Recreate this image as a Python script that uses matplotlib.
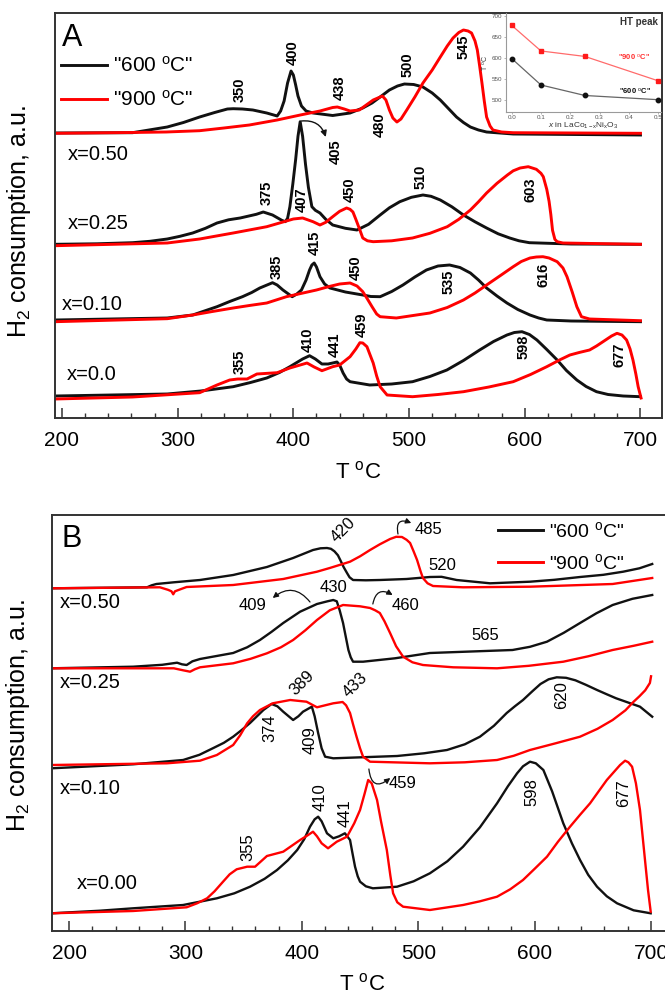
import matplotlib
matplotlib.use("Agg")
import matplotlib.pyplot as plt
from matplotlib.ticker import MultipleLocator, FixedLocator

plt.rcParams['font.family'] = ['Liberation Sans', 'DejaVu Sans']
plt.rcParams['mathtext.fontset'] = 'custom'
plt.rcParams['mathtext.rm'] = 'Liberation Sans'
plt.rcParams['mathtext.it'] = 'Liberation Sans:italic'
plt.rcParams['mathtext.bf'] = 'Liberation Sans:bold'

# ---------------- panel A : TPR traces (T in C, H2 signal in a.u.) ----------------
A600_050_T = [194, 261, 291, 305, 319, 332, 343, 348, 356, 365, 377, 386, 389, 392, 395, 398, 400, 402, 404, 407, 411, 417, 434, 449, 460, 468, 475, 483, 490, 496, 504, 512, 520, 527, 534, 541, 547, 553, 560, 567, 590, 700]
A600_050_H = [0, 0.3, 6, 10.5, 16, 20.5, 24, 24.3, 24, 23, 20, 17, 22, 32, 50, 62, 58, 48, 37, 27, 22, 20, 17.5, 20, 25, 30, 36, 43, 47, 49, 48.5, 46, 40, 33, 24.5, 16, 10.5, 6, 3, 1, -1, -2]
A900_050_T = [194, 260, 290, 319, 340, 362, 386, 406, 423, 434, 438, 444, 449, 457, 469, 477, 480, 483, 486, 489.5, 493, 498, 505, 512, 520, 527, 533, 538, 543, 547, 551, 554, 557, 559, 561, 563, 565, 567, 570, 572.5, 580, 590, 700]
A900_050_H = [-0.3, 0.5, 1, 2.3, 5, 8, 13, 18, 22, 25.5, 26, 24, 22, 23, 33, 37, 33, 23, 15, 11, 14, 23, 36, 50, 63, 76, 87, 95, 100.5, 103, 102, 100, 92, 83, 67, 50, 32, 16, 7, 3, 1, 0.3, -0.3]

A600_025_T = [194, 230, 261, 276, 291, 302, 313, 324, 334, 344, 354, 368, 374, 382, 390, 393, 395, 397, 399.5, 402, 404, 405.9, 408, 410.5, 413, 416, 419, 423, 428, 434, 445, 455, 465, 475, 483, 492, 502, 512, 519, 527, 537, 547, 557, 567, 577, 587, 595, 604, 640, 700]
A600_025_H = [0, 0.5, 1.6, 3, 5.3, 8, 11.3, 16, 21.3, 24.5, 26.3, 30, 32.3, 29.3, 24, 22.6, 26, 37.6, 60, 85, 108, 122.6, 108, 80, 57, 37.6, 34, 31.3, 25, 19.3, 16, 14.3, 20, 29.3, 36.5, 42.6, 47, 49.3, 48, 44.3, 37.5, 29.3, 22.5, 16.3, 10.5, 6.3, 3.5, 1.6, 0.3, 0]
A900_025_T = [194, 291, 319, 348, 377, 400, 408, 417, 423, 428, 434, 440, 446, 449, 451.5, 454, 457.5, 460, 464, 469, 485, 503, 518, 533, 543, 553, 560, 567, 576, 585, 590, 596, 603, 610, 614, 616, 619, 621, 622.5, 624, 626, 628, 633, 700]
A900_025_H = [-1.4, 1.3, 5.3, 11.3, 17.6, 25.3, 26.3, 22.6, 19.3, 22, 27.6, 33, 36.3, 35, 32.3, 25, 14.3, 6.3, 3.5, 2.6, 3.5, 6.3, 11, 17.6, 25, 34.3, 42.5, 51.3, 61, 69.3, 73.5, 76.3, 77.6, 75, 71, 67.6, 55, 43, 30, 14, 5, 2.6, 1.3, 0]

A600_010_T = [194, 291, 313, 334, 345, 356, 364, 371, 382, 386, 391, 399, 403, 407, 411, 414, 416, 418, 420, 423, 427, 431.6, 445, 460, 467, 475, 485, 494.7, 505, 515, 525, 535, 544, 553, 560, 567, 576, 584.6, 594, 604.5, 612, 619, 640, 700]
A600_010_H = [0, 2, 5, 13.3, 18.5, 23.3, 27.5, 32, 37.3, 35, 30, 23.3, 26, 30, 40, 50, 55, 57, 53, 43.3, 36, 32, 28, 25, 23.5, 23.3, 28.5, 35, 43, 50, 54, 55, 52.5, 47, 40, 32, 24, 17, 10.5, 5, 2, 0, -1, -1.7]
A900_010_T = [194, 291, 313, 330, 348, 362, 377, 394, 420, 431, 440, 449, 455, 460, 464, 468, 472, 475, 489, 518, 533, 547, 557, 567, 579, 590, 597, 604.5, 610, 615.7, 621, 628, 633, 636.5, 641, 645, 649, 656, 700]
A900_010_H = [-1.7, 1.3, 5, 8.5, 12, 14.5, 17, 23.3, 30, 33.5, 36, 37, 34, 28.3, 21, 13.3, 6, 3.3, 2, 7, 12.5, 20, 27, 35, 44.5, 53.3, 58.5, 62, 63, 63.3, 62, 58.3, 52, 43.3, 28, 13.3, 3.3, 1, -0.7]

A600_00_T = [194, 291, 320, 348, 363, 377, 388, 397, 408, 414, 419, 424.7, 430, 434, 437.7, 440, 443, 446, 449, 466, 485, 503, 518, 532.7, 547, 561, 573, 584.6, 591, 597.6, 604, 610.5, 619, 628, 636, 645, 653, 662, 672, 685, 700]
A600_00_H = [0, 2, 5, 9.3, 13.5, 18, 23.5, 29.3, 37, 40.3, 37, 32, 32, 33, 34, 31, 23, 17, 14.3, 11, 12, 14.3, 19.5, 26, 35.5, 46, 54.5, 61, 63.5, 64.3, 61.5, 56, 46.5, 36, 25.5, 16, 9.5, 4.3, 1.5, 0, -0.7]
A900_00_T = [194, 261, 319, 334, 345, 352, 360, 368.5, 386, 397, 411.8, 418, 424.7, 434, 440, 449, 454, 457.5, 460, 463.6, 466, 469, 472, 475, 481, 503, 525, 547, 569, 590, 605, 619, 630, 639, 647, 656, 662, 667.6, 675, 679.7, 684, 688, 691, 693.5, 696, 698, 700.5]
A900_00_H = [-3, -1, 3.3, 11, 16, 17, 17, 22, 23.3, 28, 33, 29, 25.3, 29.3, 31, 39.3, 47, 53.3, 53, 49.3, 42, 33, 20, 9.3, 1, -0.7, 1.5, 4.3, 9, 14.3, 21.5, 29.3, 36, 41, 43.5, 46, 50, 54.3, 60, 62.7, 61, 56, 47, 36, 22, 9.3, -2]

# ---------------- panel B ----------------
B600_050_T = [185, 267, 271, 275, 290, 312.5, 341, 370, 392.5, 409.6, 416, 421.6, 425, 428, 431, 433, 436, 438.8, 441, 444, 455, 467, 490, 510, 520, 533, 561.7, 596, 617, 639, 659, 676, 690, 701]
B600_050_H = [0, 1, 3, 4.3, 6, 8.3, 13.3, 21.3, 30.3, 38.3, 40, 40.3, 39.5, 37, 33, 28.3, 21, 15.3, 11, 8.3, 8, 8.3, 9.3, 11.3, 11.5, 8.3, 5, 6.6, 8.5, 11.3, 13.5, 16.6, 20, 24.3]
B900_050_T = [185, 278, 285, 288, 289.5, 291, 294, 301, 341, 384, 413, 424, 441.4, 450, 458.6, 467, 475.8, 481, 486, 490, 493, 496, 499, 502, 504, 508, 512.7, 538.5, 596, 667, 701]
B900_050_H = [0, 1, -1.5, -3, -6, -3, -1.7, 1.3, 3.3, 9.3, 16.6, 20.3, 26.6, 32, 38.3, 44, 49.3, 51.5, 51.3, 48.5, 45.3, 37, 28.3, 17, 10.3, 5, 2.3, 1, 1.6, 4.3, 10.3]

B600_025_T = [185, 255, 280, 292.8, 297, 301, 306, 312.5, 341, 353, 364, 374, 384, 398.5, 413, 422, 427, 430, 432.5, 435.4, 438, 440, 442, 444, 452.6, 480, 510, 581, 596, 610.6, 625, 639, 653, 667, 684, 701]
B600_025_H = [0, 1.6, 3.5, 5.6, 4, 3.3, 7, 9.3, 15.3, 21, 28.3, 36.5, 45.3, 56.6, 64.3, 67, 68.3, 67, 58, 45.3, 30, 18.3, 11, 6.6, 6.6, 10, 15.3, 18.3, 21.5, 26.6, 35.5, 45.3, 55, 63.3, 69.5, 73.3]
B900_025_T = [185, 290, 298, 304, 308, 312.5, 341, 356, 370, 382, 392.5, 403, 413, 424, 435.4, 450, 458.6, 463, 467, 471, 475.8, 481, 487, 495, 504, 530, 567.7, 595, 624.6, 646, 667, 685, 701]
B900_025_H = [0, 0, -2, -3.4, -1, 1, 5, 9.5, 15, 21, 28.3, 38, 48.3, 58, 63.3, 62, 60.3, 58, 55.3, 47, 35.3, 22, 11.6, 6, 3.3, 1, 0, 2.5, 6.6, 12, 18.3, 22.5, 26.6]

B600_010_T = [185, 255, 298, 312, 324, 333, 341, 348, 355.5, 367, 374, 379, 384, 392.5, 397, 401, 408.6, 411, 414, 417, 420, 427, 481.8, 505, 524.7, 540, 553, 565, 576, 583, 590, 598, 605, 612, 619, 627, 635, 644, 653.6, 662, 670, 690.5, 701]
B600_010_H = [0, 4, 8.3, 13.5, 20.3, 25.5, 31.6, 38, 45.3, 58.3, 64.3, 62, 56.6, 48.3, 52, 56.6, 61.6, 52, 35.3, 20, 11.6, 10, 12.3, 15, 18.3, 24, 31.6, 42.5, 55.3, 62, 68.3, 77, 84.3, 89, 91, 90.5, 88, 83.5, 78.3, 74, 70, 61.6, 51.6]
B900_010_T = [185, 284, 312.5, 327, 341, 347, 353, 358, 364, 375, 390, 404, 413, 420, 427, 435, 438, 441.4, 444, 447, 450, 452.6, 458.6, 510, 540, 567.7, 582, 596, 618, 639, 654, 667, 678, 684.5, 690, 695, 699, 700]
B900_010_H = [3.3, 5, 7.6, 13.3, 23.3, 33, 45, 52, 58.3, 65, 68.3, 66.6, 61, 63, 65, 66.3, 63, 55.3, 44, 31.6, 20, 11.6, 6.6, 5, 6, 8.3, 12.5, 18.3, 25, 31.6, 39.5, 48.3, 58, 66, 72, 78, 85.3, 92]

B600_00_T = [185, 226.6, 255, 298, 327, 342, 355.5, 368, 378.7, 388, 396, 402, 407, 411, 414, 417, 421.6, 427, 432, 437, 441.4, 443.5, 445.7, 448, 450, 455, 461, 481.8, 496, 510, 525, 538.5, 553, 567.7, 577, 584.9, 590, 596, 601, 607.5, 615, 624.6, 632, 639, 646, 653.6, 662, 670.8, 685, 699.7]
B600_00_H = [0, 2.6, 5, 8.3, 15, 20, 26.6, 34.5, 43.3, 53, 63.3, 74, 86.6, 94, 96.6, 92, 80, 75, 77, 80, 73.3, 60, 46.6, 37, 31.6, 27, 25, 26.6, 32, 40, 52, 66.6, 86, 110, 127, 140, 147, 151.6, 150, 143.3, 122, 90, 70, 53.3, 38.5, 26.6, 17, 10, 3, 0]
B900_00_T = [185, 255, 301, 310, 318.6, 325, 332.3, 338, 344, 353, 359.8, 364, 370, 384, 398.5, 405, 409.6, 413, 417, 422.5, 430, 438.8, 445, 450, 454, 457, 460, 464.6, 468, 473, 476, 478.4, 482, 487, 510, 538.5, 553, 567.7, 579, 590, 600, 610.6, 620, 630.4, 639, 647.6, 655, 662, 673.4, 677.7, 680.5, 683.7, 687, 690.5, 692.5, 694.8, 697.4, 699.7]
B900_00_H = [0, 2.3, 6, 10, 15, 22, 31.6, 39, 44, 46.6, 46.6, 51, 57.3, 61.6, 73.3, 78, 81.6, 77, 70, 65, 71.6, 76.6, 90, 103.3, 120, 133.3, 130, 113.3, 92, 63.3, 38, 20, 11, 6.6, 3.3, 8.3, 12, 16.6, 24, 33.3, 44.5, 56.6, 71.5, 86.6, 98.5, 110, 122, 133.3, 148.3, 152.6, 151, 146.6, 130, 103.3, 80, 53.3, 23.3, 1.6]

samples_A = ['x=0.50', 'x=0.25', 'x=0.10', 'x=0.0']
samples_B = ['x=0.50', 'x=0.25', 'x=0.10', 'x=0.00']
curves_A = [(A600_050_T, A600_050_H, A900_050_T, A900_050_H),
            (A600_025_T, A600_025_H, A900_025_T, A900_025_H),
            (A600_010_T, A600_010_H, A900_010_T, A900_010_H),
            (A600_00_T, A600_00_H, A900_00_T, A900_00_H)]
curves_B = [(B600_050_T, B600_050_H, B900_050_T, B900_050_H),
            (B600_025_T, B600_025_H, B900_025_T, B900_025_H),
            (B600_010_T, B600_010_H, B900_010_T, B900_010_H),
            (B600_00_T, B600_00_H, B900_00_T, B900_00_H)]

# peak temperatures written next to the traces
peaks_A = ['350', '400', '438', '500', '480', '545',
           '375', '407', '450', '510', '603',
           '385', '415', '450', '535', '616',
           '355', '410', '441', '459', '598', '677']
peaks_B = ['420', '520', '430', '565', '389', '374', '409', '433', '620',
           '410', '355', '441', '598', '677']
arrow_peaks_B = ['485', '409', '460', '459']

# HT peak position vs. Ni content (inset)
x_ni = [0.0, 0.1, 0.25, 0.5]
ht_600 = [598, 535, 510, 500]
ht_900 = [677, 616, 603, 545]

# ---------------- layout / style ----------------
offsets_A = [287, 175.7, 100, 24]
offsets_B = [343.7, 263.7, 163.7, 18.7]
peaks_A_pos = [(354, 330), (399.8, 367), (440.5, 332), (499, 355), (475, 295), (547, 373),
               (377, 227), (407.6, 220), (449, 230), (509.7, 243), (605, 230),
               (386, 153), (418.9, 177), (453.5, 152), (534, 138), (616, 145),
               (354, 58), (412.8, 80), (436, 75), (459.5, 95), (598.8, 73), (681.8, 65)]
peaks_B_pos = [(435.4, 402, 45), (521, 367, 0), (426.8, 344, 0), (558, 297, 0),
               (400, 249, 45), (372.7, 204, 90), (407, 192, 90), (445.7, 247, 45),
               (623.3, 237, 90), (415.6, 135, 90), (354, 85, 90), (437, 119, 90),
               (597.5, 140, 90), (676.2, 139, 90)]
# (text x, text y), arrow start, arrow end, curvature
arrow_B_pos = [((508.4, 403), (482.6, 398), (494, 409), -0.9),
               ((358, 327), (407, 330), (375, 334), 0.5),
               ((488.7, 327), (461, 328), (478, 337), -0.7),
               ((486.5, 149), (457.6, 163), (476, 154), 0.9)]
label_pos_A = [(205, 266), (205, 197), (200, 115), (204, 45)]
label_pos_B = [(192.3, 329), (192.3, 250), (192.3, 144), (206.9, 49)]

BLACK = '#111111'
RED = '#ff0000'
SPINE = '#333333'
deg = r'$^\mathrm{o}$'

fig = plt.figure(figsize=(6.65, 9.96), dpi=100)
axA = fig.add_axes([55 / 665, 1 - 418.5 / 996, 607 / 665, 405.2 / 996])
axB = fig.add_axes([51.7 / 665, 1 - 931 / 996, 620.3 / 665, 416 / 996])


def style_axis(ax, xlim, ylim):
    ax.set_xlim(*xlim)
    ax.set_ylim(*ylim)
    ax.set_yticks([])
    ax.xaxis.set_major_locator(MultipleLocator(100))
    ax.xaxis.set_minor_locator(MultipleLocator(20))
    ax.tick_params(axis='x', which='major', direction='in', length=7, width=1.1,
                   color=SPINE, labelsize=15, pad=9)
    ax.tick_params(axis='x', which='minor', direction='in', length=3.5, width=1.0, color=SPINE)
    for s in ax.spines.values():
        s.set_color(SPINE)
        s.set_linewidth(1.4)
    ax.set_xlabel('T ' + deg + 'C', fontsize=16, labelpad=8)
    ax.set_ylabel('H$_2$ consumption, a.u.', fontsize=18)


style_axis(axA, (194, 718.6), (1.5, 406.7))
style_axis(axB, (185.1, 718.0), (1, 417))
axA.yaxis.set_label_coords(-0.036, 0.485)
axB.yaxis.set_label_coords(-0.032, 0.517)

handles = []
for (t6, h6, t9, h9), off in zip(curves_A, offsets_A):
    l6, = axA.plot(t6, [off + v for v in h6], color=BLACK, lw=2.1, solid_joinstyle='round')
    l9, = axA.plot(t9, [off + v for v in h9], color=RED, lw=2.1, solid_joinstyle='round')
    handles.append((l6, l9))
for (t6, h6, t9, h9), off in zip(curves_B, offsets_B):
    axB.plot(t6, [off + v for v in h6], color=BLACK, lw=1.7, solid_joinstyle='round')
    axB.plot(t9, [off + v for v in h9], color=RED, lw=1.7, solid_joinstyle='round')

leg_labels = ['"600 ' + deg + 'C"', '"900 ' + deg + 'C"']
axA.legend(handles[0], leg_labels, loc='upper left', bbox_to_anchor=(0.0099, 0.895),
           frameon=False, fontsize=15, handlelength=2.2, handletextpad=0.3,
           labelspacing=0.68, borderpad=0, borderaxespad=0)
axB.legend(handles[0], leg_labels, loc='upper left', bbox_to_anchor=(0.7195, 0.985),
           frameon=False, fontsize=14, handlelength=2.3, handletextpad=0.3,
           labelspacing=0.6, borderpad=0, borderaxespad=0)

axA.text(0.012, 0.94, 'A', transform=axA.transAxes, fontsize=22, va='center', ha='left')
axB.text(0.0166, 0.9425, 'B', transform=axB.transAxes, fontsize=22, va='center', ha='left')

for name, (tx, ty) in zip(samples_A, label_pos_A):
    axA.text(tx, ty, name, fontsize=14.5, ha='left', va='center')
for name, (tx, ty) in zip(samples_B, label_pos_B):
    axB.text(tx, ty, name, fontsize=14.5, ha='left', va='center')

peak_font = dict(family=['Liberation Sans Narrow', 'Liberation Sans'], weight='bold', fontsize=10.5)
for txt, (tx, ty) in zip(peaks_A, peaks_A_pos):
    axA.text(tx, ty, txt, rotation=90, ha='center', va='center', **peak_font)
axA.text(437, 268, '405', rotation=90, ha='center', va='center', **peak_font)
axA.annotate('', xy=(428, 283), xytext=(407, 299),
             arrowprops=dict(arrowstyle='-|>', color=BLACK, lw=1.0, mutation_scale=9,
                             connectionstyle='arc3,rad=-0.4', shrinkA=0, shrinkB=0))

for txt, (tx, ty, rot) in zip(peaks_B, peaks_B_pos):
    axB.text(tx, ty, txt, rotation=rot, ha='center', va='center', fontsize=12)
for txt, (tpos, a0, a1, rad) in zip(arrow_peaks_B, arrow_B_pos):
    axB.text(tpos[0], tpos[1], txt, ha='center', va='center', fontsize=12)
    axB.annotate('', xy=a1, xytext=a0,
                 arrowprops=dict(arrowstyle='-|>', color=BLACK, lw=0.9, mutation_scale=8,
                                 connectionstyle='arc3,rad=%s' % rad, shrinkA=0, shrinkB=0))

# inset: HT peak temperature
axI = fig.add_axes([505.7 / 665, 1 - 111.7 / 996, 155.3 / 665, 98.4 / 996])
axI.set_facecolor('none')
axI.set_xlim(-0.0205, 0.51)
axI.set_ylim(471.4, 705.7)
for side in ('top', 'right'):
    axI.spines[side].set_visible(False)
for side in ('left', 'bottom'):
    axI.spines[side].set_color('#9a9a9a')
    axI.spines[side].set_linewidth(0.8)
    axI.spines[side].set_linestyle((0, (2, 1)))
axI.xaxis.set_major_locator(FixedLocator([0.0, 0.1, 0.2, 0.3, 0.4, 0.5]))
axI.yaxis.set_major_locator(FixedLocator([500, 550, 600, 650, 700]))
axI.set_xticklabels(['0.0', '0.1', '0.2', '0.3', '0.4', '0.5'])
axI.tick_params(labelsize=4.5, labelcolor='#555555', length=1.5, width=0.5, color='#9a9a9a', pad=1)
axI.plot(x_ni, ht_900, color='#ff6b6b', lw=0.9, marker='s', ms=3.2, mfc='#ff1a1a', mec='#ff1a1a')
axI.plot(x_ni, ht_600, color='#666666', lw=0.9, marker='o', ms=3.2, mfc=BLACK, mec=BLACK)
axI.set_xlabel(r'$x$ in LaCo$_\mathrm{1-x}$Ni$_\mathrm{x}$O$_\mathrm{3}$', fontsize=6, labelpad=0.5, color='#333333')
axI.set_ylabel('T ' + deg + 'C', fontsize=5, labelpad=1, color='#333333')
axI.text(0.5, 684, 'HT peak', ha='right', va='center', fontsize=7, weight='bold', color='#333333')
axI.text(0.418, 601.7, '"900 ' + deg + 'C"', ha='center', va='center', fontsize=5.5,
         weight='bold', color='#ff3030')
axI.text(0.42, 521.4, '"600 ' + deg + 'C"', ha='center', va='center', fontsize=5.5,
         weight='bold', color=BLACK)

fig.savefig('out.png', dpi=100)
